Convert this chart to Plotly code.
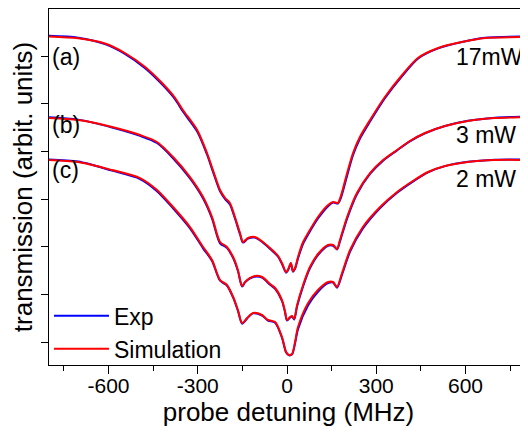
import plotly.graph_objects as go

# ---- data (probe detuning in MHz, transmission in arbitrary units) ----
freq_a = [-800, -702, -612, -545, -477, -420, -376, -350, -302, -269, -249, -225, -208, -192, -175, -158, -148, -131, -108, -81,
          -50, -30, -17, -3, 3, 13, 20, 27, 37, 54, 71, 104, 138, 155, 171, 181, 202, 222, 245, 279, 329, 387, 440, 508, 588, 666, 806]
sim_a = [7.409, 7.371, 7.262, 7.063, 6.769, 6.433, 6.119, 5.867, 5.447, 4.965, 4.608, 4.189, 4.021, 3.916, 3.622, 3.287, 3.098, 3.182, 3.203, 3.098,
         2.930, 2.804, 2.657, 2.468, 2.510, 2.657, 2.489, 2.552, 2.783, 3.098, 3.287, 3.622, 3.874, 3.937, 3.916, 4.063, 4.545, 4.965, 5.300, 5.657,
         6.140, 6.601, 6.958, 7.168, 7.293, 7.377, 7.398]
exp_a = [7.425, 7.385, 7.25, 7.045, 6.745, 6.405, 6.09, 5.835, 5.415, 4.935, 4.575, 4.16, 3.995, 3.885, 3.59, 3.26, 3.085, 3.17, 3.19, 3.085,
         2.915, 2.79, 2.64, 2.455, 2.50, 2.645, 2.475, 2.535, 2.755, 3.06, 3.255, 3.59, 3.85, 3.925, 3.905, 4.02, 4.49, 4.925, 5.265, 5.625,
         6.115, 6.58, 6.945, 7.16, 7.295, 7.385, 7.41]

freq_b = [-800, -702, -588, -494, -437, -383, -326, -282, -252, -225, -202, -181, -165, -151, -141, -124, -108, -84, -57, -40,
          -17, -7, 0, 10, 17, 24, 34, 54, 77, 104, 138, 155, 168, 178, 202, 235, 279, 323, 370, 413, 464, 531, 608, 699, 806]
sim_b = [5.699, 5.657, 5.510, 5.342, 5.196, 4.881, 4.461, 4.042, 3.622, 3.098, 2.993, 2.783, 2.510, 2.175, 2.259, 2.343, 2.385, 2.364, 2.217, 2.133,
         1.881, 1.650, 1.462, 1.524, 1.545, 1.482, 1.776, 2.196, 2.573, 2.846, 3.035, 3.035, 2.951, 3.140, 3.622, 4.126, 4.545, 4.818, 5.028, 5.217,
         5.384, 5.531, 5.636, 5.699, 5.720]
exp_b = [5.715, 5.665, 5.50, 5.325, 5.175, 4.855, 4.43, 4.01, 3.59, 3.07, 2.975, 2.76, 2.49, 2.165, 2.25, 2.335, 2.37, 2.35, 2.20, 2.115,
         1.865, 1.635, 1.45, 1.51, 1.535, 1.47, 1.75, 2.165, 2.545, 2.825, 3.02, 3.02, 2.94, 3.11, 3.59, 4.10, 4.525, 4.805, 5.02, 5.21,
         5.38, 5.53, 5.64, 5.705, 5.73]

freq_c = [-800, -702, -588, -494, -437, -383, -326, -282, -252, -225, -202, -181, -165, -151, -134, -114, -84, -64, -40, -17,
          -3, 7, 17, 27, 37, 71, 104, 138, 155, 168, 185, 212, 255, 313, 370, 423, 474, 531, 608, 699, 806]
sim_c = [4.818, 4.776, 4.608, 4.440, 4.189, 3.832, 3.412, 2.993, 2.720, 2.301, 2.196, 1.944, 1.671, 1.399, 1.503, 1.608, 1.566, 1.462, 1.420, 1.105,
         0.790, 0.727, 0.748, 1.000, 1.315, 1.818, 2.091, 2.259, 2.259, 2.154, 2.447, 2.930, 3.412, 3.832, 4.147, 4.377, 4.566, 4.692, 4.776, 4.818,
         4.818]
exp_c = [4.83, 4.785, 4.595, 4.42, 4.165, 3.805, 3.385, 2.965, 2.70, 2.285, 2.185, 1.93, 1.655, 1.385, 1.495, 1.60, 1.555, 1.45, 1.405, 1.09,
         0.78, 0.72, 0.74, 0.97, 1.27, 1.77, 2.055, 2.235, 2.245, 2.14, 2.415, 2.895, 3.38, 3.81, 4.13, 4.365, 4.56, 4.69, 4.78, 4.825,
         4.83]

x_tick_vals = [-600, -300, 0, 300, 600]
x_tick_text = ["-600", "-300", "0", "300", "600"]
y_tick_vals = [1, 2, 3, 4, 5, 6, 7]

panel_labels = ["(a)", "(b)", "(c)"]
panel_label_y = [6.98, 5.55, 4.61]
power_labels = ["17mW", "3 mW", "2 mW"]
power_label_y = [6.98, 5.34, 4.42]

FONT = "Liberation Sans, Arial, sans-serif"
BLUE = "#0000ff"
RED = "#ff0000"

fig = go.Figure()
curves = [(freq_a, exp_a, sim_a), (freq_b, exp_b, sim_b), (freq_c, exp_c, sim_c)]
for i, (f, e, s) in enumerate(curves):
    fig.add_trace(go.Scatter(x=f, y=e, mode="lines", name="Exp", legendgroup="exp",
                             showlegend=(i == 0),
                             line=dict(color=BLUE, width=2, shape="spline", smoothing=0.8)))
for i, (f, e, s) in enumerate(curves):
    fig.add_trace(go.Scatter(x=f, y=s, mode="lines", name="Simulation", legendgroup="sim",
                             showlegend=(i == 0),
                             line=dict(color=RED, width=2, shape="spline", smoothing=0.8)))

for t, yv in zip(panel_labels, panel_label_y):
    fig.add_annotation(x=-797, y=yv, xref="x", yref="y", text=t, showarrow=False,
                       xanchor="left", yanchor="middle", font=dict(family=FONT, size=23, color="black"))
for t, yv in zip(power_labels, power_label_y):
    fig.add_annotation(x=560, y=yv, xref="x", yref="y", text=t, showarrow=False,
                       xanchor="left", yanchor="middle", font=dict(family=FONT, size=23, color="black"))

# the page body adds an 8px offset; figure is sized so that the plot lands where the reference has it
fig.update_layout(
    width=520, height=424,
    margin=dict(l=41, r=0, t=1, b=67),
    paper_bgcolor="white", plot_bgcolor="white",
    font=dict(family=FONT, color="black"),
    showlegend=True,
    legend=dict(x=0.0, y=-0.015, xanchor="left", yanchor="bottom",
                bgcolor="rgba(0,0,0,0)", font=dict(family=FONT, size=23, color="black"),
                itemwidth=55, tracegroupgap=0, borderwidth=0),
    xaxis=dict(range=[-800, 810], tickvals=x_tick_vals, ticktext=x_tick_text,
               ticks="outside", ticklen=8, tickwidth=1, tickcolor="black",
               minor=dict(dtick=150, tick0=0, ticks="outside", ticklen=5, tickwidth=1, tickcolor="black"),
               showline=True, linecolor="black", linewidth=1, mirror=True,
               showgrid=False, zeroline=False, automargin=False,
               ticklabelstandoff=-6,
               tickfont=dict(family=FONT, size=21, color="black"),
               title=dict(text="probe detuning (MHz)", font=dict(family=FONT, size=26, color="black"), standoff=0)),
    yaxis=dict(range=[0.5175, 7.986], tickvals=y_tick_vals, showticklabels=False,
               ticks="outside", ticklen=7, tickwidth=1, tickcolor="black",
               showline=True, linecolor="black", linewidth=1, mirror=False,
               showgrid=False, zeroline=False, automargin=False,
               title=dict(text="transmission (arbit. units)", font=dict(family=FONT, size=26, color="black"), standoff=0)),
)

fig.write_html("out.html")
